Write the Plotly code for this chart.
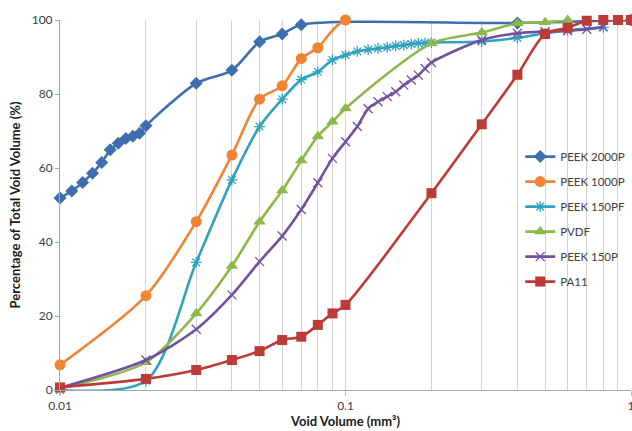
import plotly.graph_objects as go

# Void volume (mm^3) and cumulative percentage of total void volume (%)
peek2000p_x = [0.01, 0.011, 0.012, 0.013, 0.014, 0.015, 0.016, 0.017, 0.018, 0.019, 0.02,
               0.03, 0.04, 0.05, 0.06, 0.07, 0.4, 1.0]
peek2000p_y = [51.9, 53.8, 56.1, 58.6, 61.5, 64.9, 66.7, 68.0, 68.6, 69.4, 71.4,
               82.9, 86.4, 94.1, 96.2, 98.7, 99.2, 100.0]

peek1000p_x = [0.01, 0.02, 0.03, 0.04, 0.05, 0.06, 0.07, 0.08, 0.1, 1.0]
peek1000p_y = [6.8, 25.5, 45.5, 63.5, 78.6, 82.2, 89.6, 92.5, 100.0, 100.0]

peek150pf_x = [0.01, 0.02, 0.03, 0.04, 0.05, 0.06, 0.07, 0.08, 0.09, 0.1,
               0.11, 0.12, 0.13, 0.14, 0.15, 0.16, 0.17, 0.18, 0.19, 0.2,
               0.3, 0.4, 0.5, 0.6, 0.8]
peek150pf_y = [0.0, 2.5, 34.5, 56.8, 71.2, 78.6, 83.9, 86.0, 89.2, 90.5,
               91.5, 92.0, 92.3, 92.6, 93.0, 93.2, 93.5, 93.7, 93.8, 93.9,
               94.2, 95.2, 96.4, 97.2, 98.0]

pvdf_x = [0.01, 0.02, 0.03, 0.04, 0.05, 0.06, 0.07, 0.08, 0.09, 0.1,
          0.2, 0.3, 0.4, 0.5, 0.6]
pvdf_y = [0.4, 7.5, 20.7, 33.5, 45.5, 53.9, 62.0, 68.6, 72.5, 76.1,
          93.7, 96.6, 99.1, 99.4, 100.0]

peek150p_x = [0.01, 0.02, 0.03, 0.04, 0.05, 0.06, 0.07, 0.08, 0.09, 0.1,
              0.11, 0.12, 0.13, 0.14, 0.15, 0.16, 0.17, 0.18, 0.19, 0.2,
              0.3, 0.4, 0.5, 0.6, 0.7, 0.8]
peek150p_y = [0.6, 8.1, 16.4, 25.7, 34.7, 41.6, 48.8, 56.0, 62.6, 67.1,
              71.2, 76.0, 77.9, 79.3, 80.6, 82.4, 83.8, 85.1, 86.9, 88.5,
              94.6, 96.4, 96.9, 97.1, 97.5, 98.2]

pa11_x = [0.01, 0.02, 0.03, 0.04, 0.05, 0.06, 0.07, 0.08, 0.09, 0.1,
          0.2, 0.3, 0.4, 0.5, 0.6, 0.7, 0.8, 0.9, 1.0]
pa11_y = [0.7, 3.0, 5.4, 8.1, 10.5, 13.5, 14.4, 17.6, 20.7, 23.0,
          53.2, 71.8, 85.2, 96.2, 97.9, 99.8, 100.0, 100.0, 100.0]

series = [
    ("PEEK 2000P", peek2000p_x, peek2000p_y, "#3F6EAE", "diamond", 10),
    ("PEEK 1000P", peek1000p_x, peek1000p_y, "#EE8434", "circle", 11),
    ("PEEK 150PF", peek150pf_x, peek150pf_y, "#2FA3BE", "asterisk-open", 9),
    ("PVDF", pvdf_x, pvdf_y, "#8DB84A", "triangle-up", 11),
    ("PEEK 150P", peek150p_x, peek150p_y, "#7152A0", "x-thin-open", 9),
    ("PA11", pa11_x, pa11_y, "#BC3A37", "square", 10),
]

fig = go.Figure()
for i, (name, xs, ys, color, symbol, size) in enumerate(series):
    open_sym = symbol.endswith("open")
    fig.add_trace(go.Scatter(
        x=xs, y=ys, name=name, mode="lines+markers",
        legendgroup=f"g{i}",
        line=dict(color=color, width=2.6, shape="spline", smoothing=0.8),
        marker=dict(symbol=symbol, size=size, color=color,
                    line=dict(color=color, width=1.3 if open_sym else 0)),
        cliponaxis=False,
    ))

minor_vals = [0.02, 0.03, 0.04, 0.05, 0.06, 0.07, 0.08, 0.09,
              0.2, 0.3, 0.4, 0.5, 0.6, 0.7, 0.8, 0.9]

font_family = "Lato, 'Open Sans', sans-serif"

fig.update_layout(
    width=632, height=431,
    margin=dict(l=60, r=1, t=20, b=41, autoexpand=False),
    paper_bgcolor="white", plot_bgcolor="white",
    font=dict(family=font_family, size=12, color="#404040"),
    showlegend=True,
    legend=dict(x=0.806, xanchor="left", y=0.67, yanchor="top",
                bgcolor="rgba(0,0,0,0)", tracegroupgap=6, itemwidth=30,
                font=dict(size=11.5, color="#404040")),
    xaxis=dict(
        type="log", range=[-2, 0], automargin=False,
        tickvals=[0.01, 0.1, 1], ticktext=["0.01", "0.1", "1"],
        ticklabeloverflow="allow",
        ticks="outside", ticklen=5, tickcolor="#bfbfbf",
        showgrid=True, gridcolor="#d4d4d4", gridwidth=1,
        minor=dict(tickvals=minor_vals, showgrid=True, gridcolor="#d4d4d4",
                   gridwidth=1, ticks=""),
        showline=True, linecolor="#a6a6a6", linewidth=1,
        zeroline=False,
        title=dict(text="<b>Void Volume (mm³)</b>", standoff=4,
                   font=dict(size=13, color="#1a1a1a")),
        tickfont=dict(size=12, color="#404040"),
    ),
    yaxis=dict(
        range=[0, 100], tickvals=[0, 20, 40, 60, 80, 100], automargin=False,
        ticks="outside", ticklen=4, tickcolor="#a6a6a6",
        showgrid=False, zeroline=False,
        showline=True, linecolor="#a6a6a6", linewidth=1,
        title=dict(text="<b>Percentage of Total Void Volume (%)</b>", standoff=8,
                   font=dict(size=13, color="#1a1a1a")),
        tickfont=dict(size=12, color="#404040"),
    ),
)

fig.write_html("out.html")
